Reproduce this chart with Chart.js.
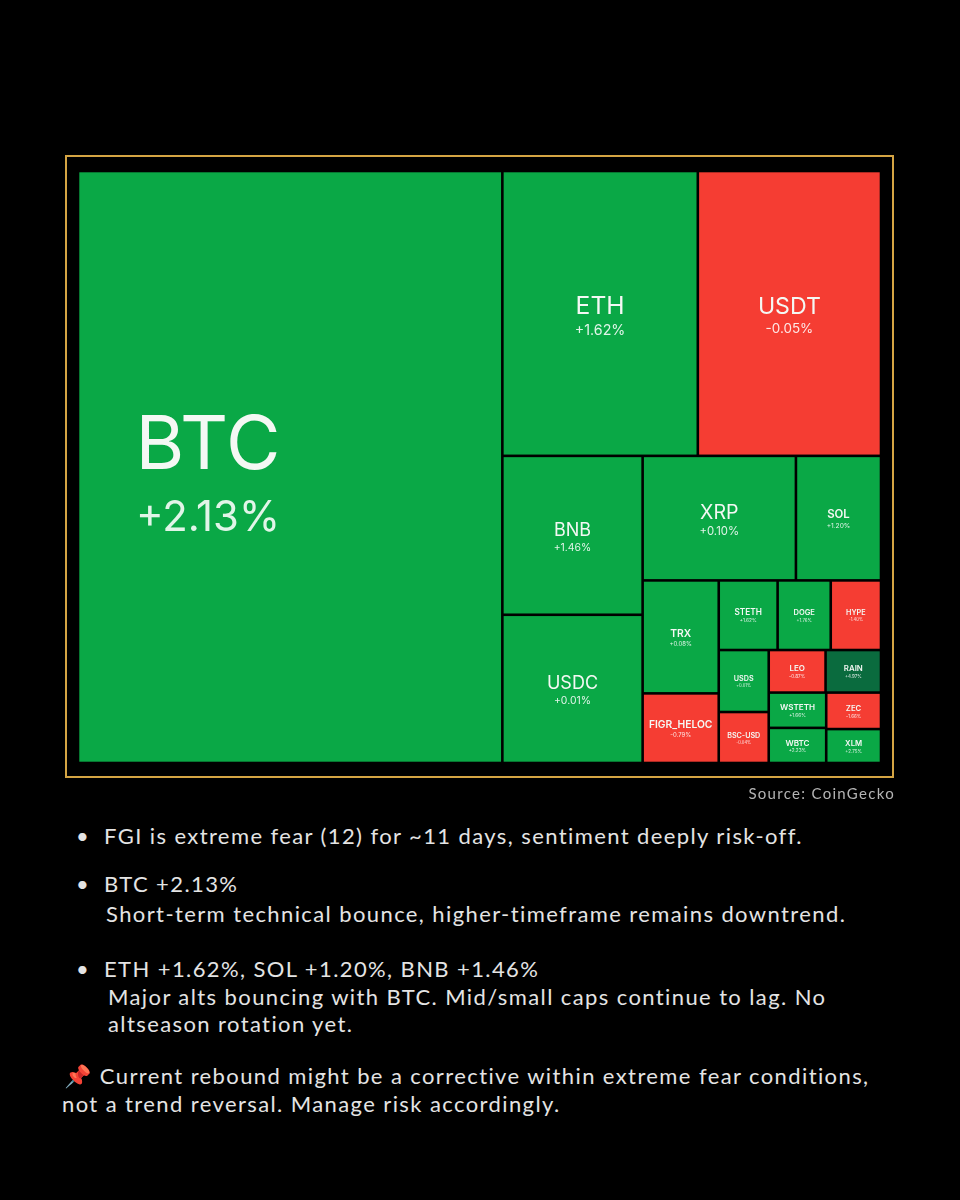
<!DOCTYPE html>
<html>
<head>
<meta charset="utf-8">
<script src="https://cdn.jsdelivr.net/npm/chart.js@4.4.1/dist/chart.umd.min.js"></script>
<style>
html, body { margin: 0; padding: 0; background: #000; }
body { width: 960px; height: 1200px; position: relative; overflow: hidden; font-family: Lato, 'Open Sans', 'Noto Color Emoji', sans-serif; color: #e4e4e4; }
#wrap { position: absolute; left: 0; top: 0; width: 960px; height: 790px; }
#frame { position: absolute; left: 65px; top: 155px; width: 825px; height: 619px; border: 2px solid #d4a443; pointer-events: none; }
.src { position: absolute; right: 65px; top: 784px; font-size: 15px; letter-spacing: 1.3px; color: #b4b4b4; }
.ln { position: absolute; font-size: 22px; letter-spacing: 1.4px; line-height: 28px; white-space: nowrap; }
</style>
</head>
<body>
<div id="wrap"><canvas id="heat"></canvas></div>
<div id="frame"></div>
<div class="src">Source: CoinGecko</div>

<div class="ln" style="left:76px;top:822px">•</div>
<div class="ln" style="left:104px;top:822px">FGI is extreme fear (12) for ~11 days, sentiment deeply risk-off.</div>

<div class="ln" style="left:76px;top:870px">•</div>
<div class="ln" style="left:104px;top:870px">BTC +2.13%</div>
<div class="ln" style="left:106px;top:900px">Short-term technical bounce, higher-timeframe remains downtrend.</div>

<div class="ln" style="left:76px;top:955px">•</div>
<div class="ln" style="left:104px;top:955px">ETH +1.62%, SOL +1.20%, BNB +1.46%</div>
<div class="ln" style="left:108px;top:983px">Major alts bouncing with BTC. Mid/small caps continue to lag. No</div>
<div class="ln" style="left:108px;top:1010px">altseason rotation yet.</div>

<div class="ln" style="left:64px;top:1062px">📌 Current rebound might be a corrective within extreme fear conditions,</div>
<div class="ln" style="left:62px;top:1090px">not a trend reversal. Manage risk accordingly.</div>

<script>
// coins, relative size and 24h change in %
const symbols = ['BTC', 'ETH', 'USDT', 'BNB', 'USDC', 'XRP', 'SOL', 'TRX', 'FIGR_HELOC', 'STETH',
                 'DOGE', 'HYPE', 'USDS', 'BSC-USD', 'LEO', 'RAIN', 'WSTETH', 'WBTC', 'ZEC', 'XLM'];
const sizes = [2513, 557, 522, 223, 208, 191, 106, 86, 53, 41,
               37, 35, 31, 25.5, 24.2, 23.6, 20.3, 20.2, 20.0, 18.6];
const changes = [2.13, 1.62, -0.05, 1.46, 0.01, 0.10, 1.20, 0.08, -0.79, 1.62,
                 1.76, -1.40, 0.01, -0.04, -0.87, 4.97, 1.66, 2.23, -1.66, 2.75];

const LAYOUT_W = 803, LAYOUT_H = 592;
const GAP = 2.6;
const LEAD = { xFrac: 0.305, fontFrac: 0.177, subFrac: 0.56 };

function colorFor(ch) {
    if (ch >= 4) return '#0a6b3e';
    if (ch >= 0) return '#0aa846';
    return '#f53d33';
}

function fmt(ch) {
    return (ch >= 0 ? '+' : '') + ch.toFixed(2) + '%';
}

function worst(row, side) {
    let sum = 0, max = -Infinity, min = Infinity;
    row.forEach(function (r) { sum += r.area; max = Math.max(max, r.area); min = Math.min(min, r.area); });
    return Math.max(side * side * max / (sum * sum), (sum * sum) / (side * side * min));
}

// squarified treemap
function squarify(items, x, y, w, h) {
    var out = [];
    var rest = items.slice();
    while (rest.length) {
        var side = Math.min(w, h);
        var row = [rest[0]];
        var i = 1;
        while (i < rest.length && worst(row.concat([rest[i]]), side) <= worst(row, side)) {
            row.push(rest[i]);
            i++;
        }
        rest = rest.slice(i);
        var sum = row.reduce(function (a, r) { return a + r.area; }, 0);
        if (w > h) {
            var t = sum / h, yy = y;
            row.forEach(function (r) {
                var hh = r.area / t;
                out.push(Object.assign({}, r, { x0: x, x1: x + t, y0: yy, y1: yy + hh }));
                yy += hh;
            });
            x += t; w -= t;
        } else {
            var t2 = sum / w, xx = x;
            row.forEach(function (r) {
                var ww = r.area / t2;
                out.push(Object.assign({}, r, { x0: xx, x1: xx + ww, y0: y, y1: y + t2 }));
                xx += ww;
            });
            y += t2; h -= t2;
        }
    }
    return out;
}

var total = sizes.reduce(function (a, b) { return a + b; }, 0);
var items = symbols.map(function (s, i) {
    return { name: s, change: changes[i], area: sizes[i] / total * LAYOUT_W * LAYOUT_H };
}).sort(function (a, b) { return b.area - a.area; });

var cells = squarify(items, 0, 0, LAYOUT_W, LAYOUT_H).map(function (c) {
    c.x = (c.x0 + c.x1) / 2;
    c.y = (c.y0 + c.y1) / 2;
    return c;
});

const cellPlugin = {
    id: 'cells',
    afterDatasetsDraw: function (chart) {
        var ctx = chart.ctx, xs = chart.scales.x, ys = chart.scales.y;
        var data = chart.data.datasets[0].data;
        ctx.save();
        data.forEach(function (c, i) {
            var l = xs.getPixelForValue(c.x0) + GAP / 2, r = xs.getPixelForValue(c.x1) - GAP / 2;
            var t = ys.getPixelForValue(c.y0) + GAP / 2, b = ys.getPixelForValue(c.y1) - GAP / 2;
            var w = r - l, h = b - t;
            ctx.fillStyle = colorFor(c.change);
            ctx.fillRect(l, t, w, h);

            var lead = i === 0;
            var f = lead ? w * LEAD.fontFrac : w * 0.12 + 1.5;
            var weight = f < 13 ? 600 : 400;
            ctx.font = weight + ' ' + f + 'px Inter';
            var tw = ctx.measureText(c.name).width;
            if (tw > w * 0.9) {
                f = f * w * 0.9 / tw;
                ctx.font = weight + ' ' + f + 'px Inter';
            }
            var s = f * (lead ? LEAD.subFrac : 0.58);
            var cap = 0.727;
            var blockH = cap * f + 0.42 * f + cap * s;
            var cx = lead ? l + w * LEAD.xFrac : (l + r) / 2;
            var top = (t + b) / 2 - blockH / 2 + 0.08 * f;
            ctx.textAlign = 'center';
            ctx.textBaseline = 'alphabetic';
            ctx.fillStyle = '#f4f8f4';
            ctx.fillText(c.name, cx, top + cap * f);
            ctx.font = '400 ' + s + 'px Inter';
            ctx.fillStyle = 'rgba(255,255,255,0.88)';
            ctx.fillText(fmt(c.change), cx, top + cap * f + 0.42 * f + cap * s);
        });
        ctx.restore();
    }
};

new Chart(document.getElementById('heat'), {
    type: 'scatter',
    data: {
        datasets: [{ data: cells, pointRadius: 0, pointHoverRadius: 0 }],
    },
    options: {
        responsive: true,
        maintainAspectRatio: false,
        animation: false,
        events: [],
        layout: { padding: { left: 78, right: 79, top: 171, bottom: 27 } },
        scales: {
            x: { type: 'linear', min: 0, max: LAYOUT_W, display: false },
            y: { type: 'linear', min: 0, max: LAYOUT_H, reverse: true, display: false },
        },
        plugins: { legend: { display: false }, tooltip: { enabled: false } },
    },
    plugins: [cellPlugin],
});
</script>
</body>
</html>
